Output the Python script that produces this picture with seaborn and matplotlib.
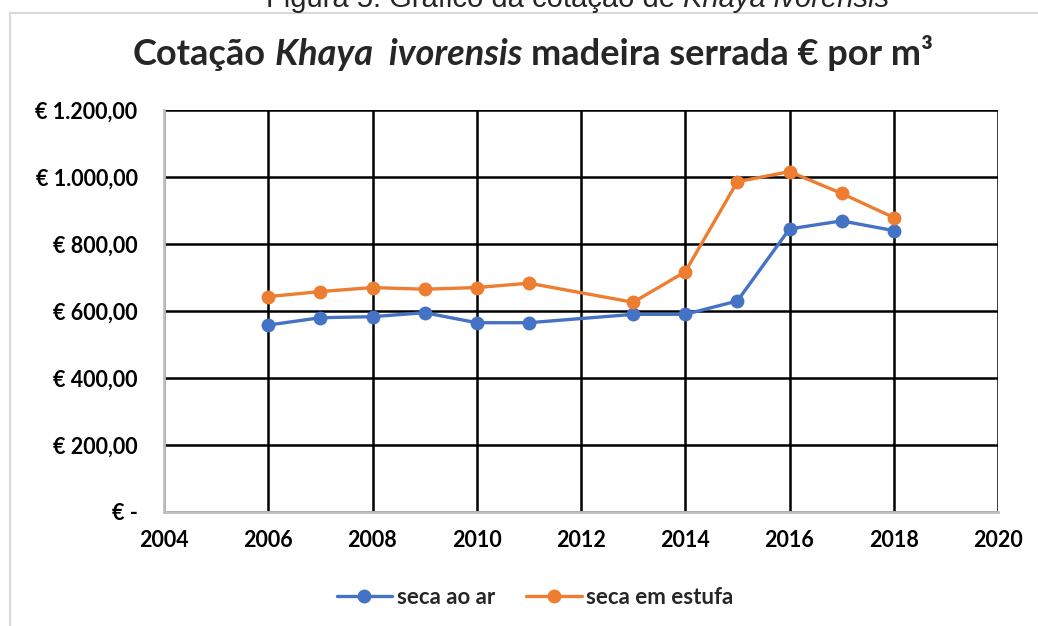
import matplotlib
matplotlib.use("Agg")
import matplotlib.pyplot as plt
import seaborn as sns
import pandas as pd
from matplotlib.patches import Rectangle
from matplotlib.lines import Line2D
from matplotlib.ticker import FuncFormatter

# ---- data ----
years = [2006, 2007, 2008, 2009, 2010, 2011, 2013, 2014, 2015, 2016, 2017, 2018]
seca_ao_ar = [558, 580, 583, 595, 565, 565, 590, 590, 630, 845, 869, 840]
seca_em_estufa = [643, 658, 670, 665, 670, 683, 626, 717, 986, 1016, 951, 879]
series_names = ["seca ao ar", "seca em estufa"]
colors = ["#4472C4", "#ED7D31"]
y_ticks = [0, 200, 400, 600, 800, 1000, 1200]
x_ticks = [2004, 2006, 2008, 2010, 2012, 2014, 2016, 2018, 2020]

sns.set_theme(style="white")
plt.rcParams['font.family'] = ['Lato', 'DejaVu Sans']

df = pd.DataFrame({
    "Ano": years * 2,
    "Valor": seca_ao_ar + seca_em_estufa,
    "Serie": [series_names[0]] * len(years) + [series_names[1]] * len(years),
})

W, H = 1038, 626
fig = plt.figure(figsize=(W / 100, H / 100), dpi=100)
fig.patch.set_facecolor("white")

# chart frame
fig.add_artist(Rectangle((10 / W, -0.05), 1.2, 1 - 13 / H + 0.05, transform=fig.transFigure,
                         fill=False, edgecolor="#D9D9D9", linewidth=1.5))

ax = fig.add_axes([164 / W, 1 - 512 / H, 834 / W, 402 / H])
sns.lineplot(data=df, x="Ano", y="Valor", hue="Serie", hue_order=series_names,
             palette=colors, marker="o", markersize=10, markeredgewidth=0,
             linewidth=2.4, ax=ax, legend=False, sort=True, zorder=3)

ax.set_xlim(2004, 2020)
ax.set_ylim(0, 1200)
ax.set_xticks(x_ticks)
ax.set_yticks(y_ticks)
ax.grid(True, color="black", linewidth=1.8)
ax.set_axisbelow(True)
for s in ["top", "right"]:
    ax.spines[s].set_visible(False)
for s in ["left", "bottom"]:
    ax.spines[s].set_color("#BFBFBF")
    ax.spines[s].set_linewidth(2)
    ax.spines[s].set_zorder(2.5)
ax.set_xlabel("")
ax.set_ylabel("")


def eur(v, pos=None):
    if v == 0:
        return "€ -"
    s = f"{v:,.2f}".replace(",", "X").replace(".", ",").replace("X", ".")
    return "€ " + s


ax.yaxis.set_major_formatter(FuncFormatter(eur))
ax.tick_params(axis="both", length=0, labelsize=15.5)
ax.tick_params(axis="y", pad=19)
ax.tick_params(axis="x", pad=13)
for lbl in ax.get_xticklabels() + ax.get_yticklabels():
    lbl.set_fontweight("bold")
    lbl.set_color("#000000")

# legend
handles = [Line2D([0], [0], color=c, marker="o", markersize=10, markeredgewidth=0, linewidth=2.4)
           for c in colors]
leg = fig.legend(handles, series_names, loc="center", bbox_to_anchor=(535 / W, 1 - 597 / H),
                 ncol=2, frameon=False, handlelength=2.5, handletextpad=0.2,
                 columnspacing=1.4, prop={"weight": "bold", "size": 16})

# title composed of mixed styles
fig.canvas.draw()
renderer = fig.canvas.get_renderer()


def compose(parts, y_px, center_px, size, family):
    tmp = fig.text(0, 0, "x x", size=size, fontweight=parts[0][2], family=family)
    tmp2 = fig.text(0, 0, "xx", size=size, fontweight=parts[0][2], family=family)
    space = tmp.get_window_extent(renderer).width - tmp2.get_window_extent(renderer).width
    tmp.remove(); tmp2.remove()
    objs = [fig.text(0, 1 - y_px / H, s, size=size, fontstyle=st, fontweight=wt,
                     family=family, va="baseline", ha="left") for s, st, wt in parts]
    widths = [o.get_window_extent(renderer).width for o in objs]
    total = sum(widths) + space * (len(objs) - 1)
    x = center_px - total / 2
    for o, w in zip(objs, widths):
        o.set_x(x / W)
        x += w + space


compose([("Cotação", "normal", "bold"), ("Khaya  ivorensis", "italic", "bold"),
         ("madeira serrada € por m³", "normal", "bold")], 65, 533, 26, ['Lato', 'DejaVu Sans'])
compose([("Figura 5. Gráfico da cotação de", "normal", "normal"),
         ("Khaya ivorensis", "italic", "normal")], 7, 578, 21, ['Liberation Sans', 'DejaVu Sans'])

fig.savefig("out.png", dpi=100, facecolor="white")
